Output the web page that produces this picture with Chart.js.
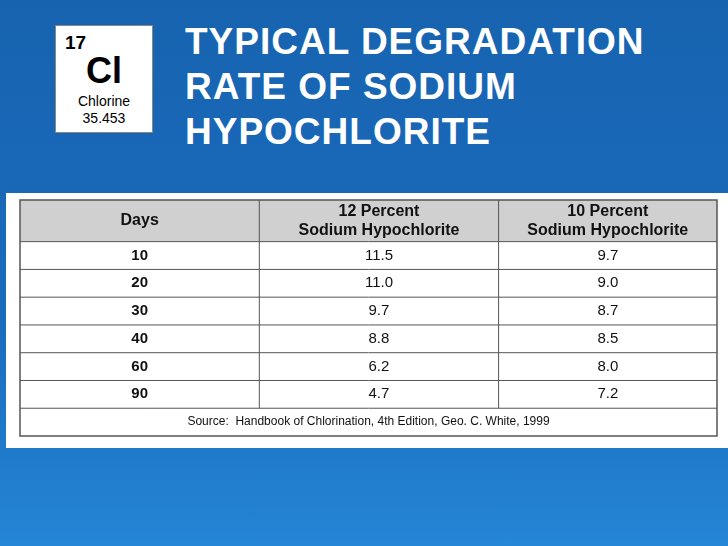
<!DOCTYPE html>
<html>
<head>
<meta charset="utf-8">
<script src="https://cdn.jsdelivr.net/npm/chart.js@4/dist/chart.umd.min.js"></script>
<style>
  body { margin: 0; width: 728px; height: 546px; overflow: hidden;
    background: linear-gradient(180deg, #1763b0 0%, #1a6cbd 60%, #2585d6 100%);
    font-family: "Liberation Sans", Arial, sans-serif; position: relative; }
  #elem { position: absolute; left: 55px; top: 25px; width: 96px; height: 106px;
    background: #fff; border: 1px solid #888; color: #000; }
  #elem .num { position: absolute; left: 9px; top: 6px; font-size: 19px; font-weight: bold; }
  #elem .sym { position: absolute; left: 0; width: 100%; top: 24px; text-align: center; font-size: 36px; font-weight: bold; }
  #elem .name { position: absolute; left: 0; width: 100%; top: 67px; text-align: center; font-size: 14px; }
  #elem .mass { position: absolute; left: 0; width: 100%; top: 84px; text-align: center; font-size: 14px; }
  #title { position: absolute; left: 185px; top: 19px; color: #fff; font-size: 37px; letter-spacing: 1px; font-weight: bold; line-height: 45px; }
  #panel { position: absolute; left: 6px; top: 193px; width: 722px; height: 255px; background: #fff; }
  #wrap { position: absolute; left: 19px; top: 199px; width: 699px; height: 238px; }
</style>
</head>
<body>
<div id="elem"><div class="num">17</div><div class="sym">Cl</div><div class="name">Chlorine</div><div class="mass">35.453</div></div>
<div id="title">TYPICAL DEGRADATION<br>RATE OF SODIUM<br>HYPOCHLORITE</div>
<div id="panel"></div>
<div id="wrap"><canvas id="tbl"></canvas></div>
<script>
const days = ['10', '20', '30', '40', '60', '90'];
const pct12 = ['11.5', '11.0', '9.7', '8.8', '6.2', '4.7'];
const pct10 = ['9.7', '9.0', '8.7', '8.5', '8.0', '7.2'];
const headers = [['Days'], ['12 Percent', 'Sodium Hypochlorite'], ['10 Percent', 'Sodium Hypochlorite']];
const source = 'Source:  Handbook of Chlorination, 4th Edition, Geo. C. White, 1999';

const tablePlugin = {
  id: 'tablePlugin',
  afterDraw(chart) {
    const { ctx, scales: { x, y } } = chart;
    const X = v => x.getPixelForValue(v), Y = v => y.getPixelForValue(v);
    const cols = [0, 1.03, 2.06, 3];
    ctx.save();
    ctx.fillStyle = '#d0d0d0';
    ctx.fillRect(X(0), Y(-1.5), X(3) - X(0), Y(0) - Y(-1.5));
    ctx.strokeStyle = '#555';
    ctx.lineWidth = 1;
    for (let r = 0; r <= 6; r++) {
      ctx.beginPath(); ctx.moveTo(X(0), Y(r)); ctx.lineTo(X(3), Y(r)); ctx.stroke();
    }
    [1, 2].forEach(c => {
      ctx.beginPath(); ctx.moveTo(X(cols[c]), Y(-1.5)); ctx.lineTo(X(cols[c]), Y(6)); ctx.stroke();
    });
    ctx.lineWidth = 1.5;
    ctx.strokeRect(X(0), Y(-1.5), X(3) - X(0), Y(7) - Y(-1.5));
    ctx.fillStyle = '#111';
    ctx.textAlign = 'center';
    ctx.textBaseline = 'middle';
    const mid = c => X((cols[c] + cols[c + 1]) / 2);
    ctx.font = 'bold 16px "Liberation Sans", Arial, sans-serif';
    headers.forEach((lines, c) => {
      const cy = Y(-0.75);
      lines.forEach((t, i) => ctx.fillText(t, mid(c), cy + (i - (lines.length - 1) / 2) * 19));
    });
    days.forEach((d, r) => {
      const cy = Y(r + 0.5);
      ctx.font = 'bold 15px "Liberation Sans", Arial, sans-serif';
      ctx.fillText(d, mid(0), cy);
      ctx.font = '15px "Liberation Sans", Arial, sans-serif';
      ctx.fillText(pct12[r], mid(1), cy);
      ctx.fillText(pct10[r], mid(2), cy);
    });
    ctx.font = '12px "Liberation Sans", Arial, sans-serif';
    ctx.fillText(source, X(1.5), Y(6.5));
    ctx.restore();
  }
};

new Chart(document.getElementById('tbl'), {
  type: 'scatter',
  data: { datasets: [{ data: [], pointRadius: 0 }] },
  options: {
    responsive: true, maintainAspectRatio: false, animation: false,
    layout: { padding: 1 },
    plugins: { legend: { display: false }, tooltip: { enabled: false } },
    scales: {
      x: { type: 'linear', min: 0, max: 3, display: false },
      y: { type: 'linear', min: -1.5, max: 7, reverse: true, display: false }
    }
  },
  plugins: [tablePlugin]
});
</script>
</body>
</html>
